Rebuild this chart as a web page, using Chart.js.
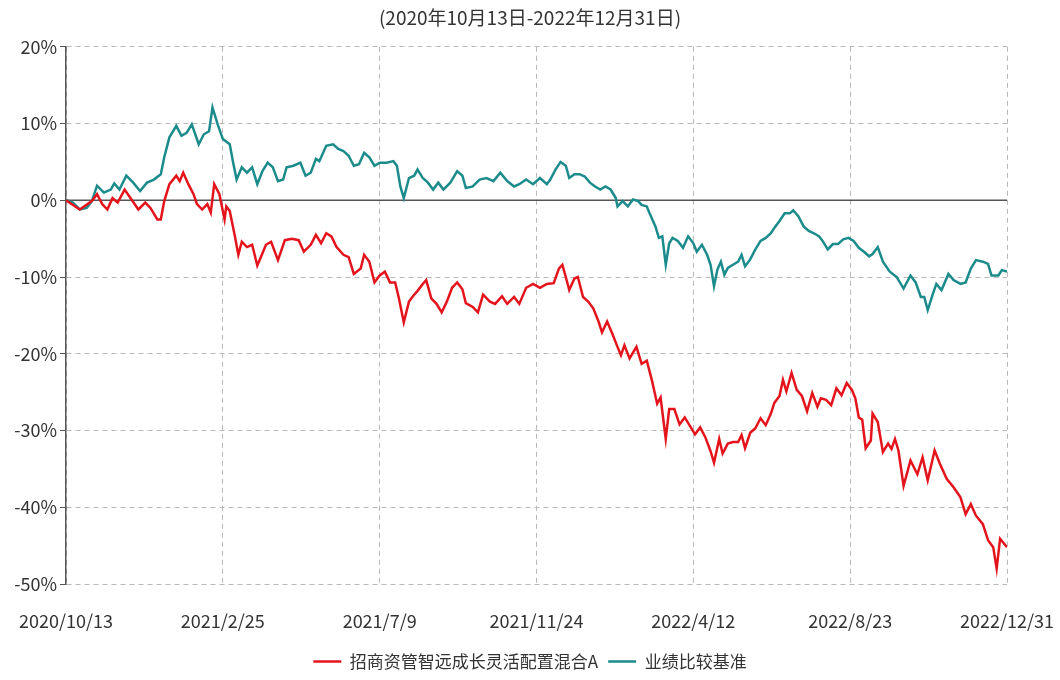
<!DOCTYPE html>
<html>
<head>
<meta charset="utf-8">
<title>招商资管智远成长灵活配置混合A</title>
<script src="https://cdn.jsdelivr.net/npm/chart.js@4.4.0/dist/chart.umd.min.js"></script>
<style>
    html, body { margin: 0; padding: 0; background: #fff; }
</style>
</head>
<body>
<canvas id="navChart" width="1060" height="680"></canvas>
<script>
// x = trading day index since 2020/10/13
const tickDays = [0, 91, 182, 273, 364, 455, 546];
const tickLabels = ['2020/10/13', '2021/2/25', '2021/7/9', '2021/11/24', '2022/4/12', '2022/8/23', '2022/12/31'];

const fundName = '招商资管智远成长灵活配置混合A';
const benchName = '业绩比较基准';
const periodText = '(2020年10月13日-2022年12月31日)';

const fundDays = [0, 8, 15, 18, 21, 24, 27, 30, 34, 38, 42, 46, 49, 53, 55, 57, 60, 64, 66, 68,
    71, 74, 76, 79, 82, 84, 86, 89, 92, 93, 95, 98, 100, 102, 105, 108, 111, 114, 116, 119,
    123, 127, 131, 135, 138, 142, 145, 148, 151, 154, 157, 161, 164, 167, 171, 173, 176, 179, 182, 185,
    188, 191, 193, 196, 199, 202, 204, 207, 209, 212, 215, 218, 221, 224, 227, 230, 232, 236, 239, 242,
    246, 249, 253, 256, 260, 263, 267, 271, 275, 279, 283, 286, 288, 290, 292, 295, 297, 300, 303, 306,
    309, 311, 314, 317, 320, 322, 324, 327, 331, 334, 337, 340, 343, 345, 348, 350, 353, 356, 359, 362,
    365, 368, 371, 374, 376, 379, 381, 384, 387, 390, 392, 394, 397, 400, 403, 406, 409, 411, 414, 416,
    418, 421, 424, 427, 430, 433, 436, 438, 441, 444, 447, 450, 453, 456, 458, 460, 462, 464, 467, 468,
    471, 474, 477, 479, 481, 483, 486, 490, 494, 497, 500, 504, 507, 511, 515, 519, 522, 525, 528, 532,
    535, 538, 540, 542, 546];
const fundReturn = [0, -1.2, -0.1, 0.8, -0.5, -1.2, 0.3, -0.3, 1.4, 0.1, -1.2, -0.3, -1.0, -2.5, -2.5, -0.1, 2.1, 3.2, 2.5, 3.6,
    2.1, 0.8, -0.5, -1.2, -0.5, -1.6, 2.1, 0.8, -2.5, -0.8, -1.4, -4.7, -7.1, -5.4, -6.1, -5.8, -8.5, -6.9, -5.8, -5.4,
    -7.8, -5.2, -5.0, -5.2, -6.7, -5.8, -4.5, -5.6, -4.3, -4.7, -6.1, -7.1, -7.4, -9.6, -8.9, -7.1, -8.0, -10.7, -9.8, -9.3,
    -10.7, -10.7, -12.6, -15.9, -13.2, -12.3, -11.8, -10.9, -10.4, -12.8, -13.5, -14.6, -13.2, -11.4, -10.7, -11.6, -13.4, -13.9, -14.6, -12.3,
    -13.2, -13.5, -12.5, -13.5, -12.6, -13.5, -11.4, -10.9, -11.4, -10.9, -10.8, -8.9, -8.4, -10.0, -11.7, -10.2, -10.0, -12.6, -13.2, -14.1,
    -15.8, -17.2, -15.8, -17.4, -19.1, -20.2, -18.9, -20.6, -19.1, -21.3, -20.9, -23.5, -26.5, -25.7, -31.1, -27.2, -27.2, -29.2, -28.3, -29.4,
    -30.5, -29.6, -30.9, -32.7, -34.2, -31.1, -33.0, -31.7, -31.5, -31.5, -30.6, -32.3, -30.3, -29.7, -28.4, -29.3, -27.8, -26.4, -25.5, -23.4,
    -24.9, -22.5, -24.7, -25.5, -27.5, -25.1, -26.9, -25.8, -26.0, -26.7, -24.5, -25.4, -23.8, -24.7, -25.8, -28.3, -28.6, -32.3, -31.3, -27.8,
    -28.9, -32.8, -31.7, -32.4, -31.1, -32.6, -37.2, -33.9, -35.7, -33.5, -36.5, -32.6, -34.3, -36.3, -37.4, -38.7, -40.9, -39.6, -41.1, -42.2,
    -44.3, -45.2, -48.0, -44.1, -45.2];

const benchDays = [0, 4, 8, 12, 15, 18, 22, 26, 28, 31, 35, 39, 43, 47, 51, 55, 57, 60, 64, 67,
    70, 73, 77, 80, 83, 85, 88, 91, 95, 97, 99, 102, 105, 108, 111, 114, 117, 120, 123, 126,
    128, 132, 136, 139, 142, 145, 147, 151, 155, 158, 161, 164, 167, 170, 173, 176, 179, 182, 186, 190,
    192, 194, 196, 199, 202, 204, 207, 210, 213, 216, 219, 223, 227, 230, 232, 236, 240, 244, 248, 252,
    256, 260, 263, 267, 271, 275, 279, 281, 284, 287, 290, 292, 295, 298, 301, 304, 307, 310, 313, 316,
    319, 320, 323, 326, 329, 332, 334, 337, 339, 342, 344, 346, 348, 350, 352, 355, 358, 361, 364, 366,
    369, 372, 374, 376, 378, 380, 382, 384, 387, 390, 392, 394, 397, 400, 403, 406, 409, 411, 414, 417,
    420, 422, 425, 428, 431, 434, 437, 439, 442, 445, 448, 451, 454, 457, 460, 463, 466, 468, 471, 474,
    478, 482, 486, 490, 493, 496, 498, 500, 503, 505, 508, 512, 515, 519, 522, 525, 528, 532, 535, 537,
    541, 543, 546];
const benchReturn = [0, -0.3, -1.2, -1.0, -0.1, 1.9, 1.0, 1.4, 2.2, 1.4, 3.2, 2.3, 1.2, 2.3, 2.7, 3.4, 5.6, 8.2, 9.7, 8.4,
    8.8, 9.9, 7.3, 8.6, 9.0, 12.1, 9.9, 8.0, 7.3, 4.9, 2.7, 4.3, 3.6, 4.3, 2.1, 3.8, 4.9, 4.3, 2.5, 2.7,
    4.3, 4.5, 4.9, 3.2, 3.6, 5.4, 5.1, 7.1, 7.3, 6.7, 6.4, 5.8, 4.5, 4.7, 6.2, 5.6, 4.5, 4.9, 4.9, 5.1,
    4.5, 1.8, 0.3, 2.9, 3.2, 4.0, 2.9, 2.3, 1.4, 2.3, 1.4, 2.3, 3.8, 3.2, 1.6, 1.8, 2.7, 2.9, 2.5, 3.6,
    2.5, 1.8, 2.1, 2.7, 2.1, 2.9, 2.1, 2.7, 4.0, 5.0, 4.5, 2.9, 3.4, 3.4, 3.1, 2.3, 1.8, 1.4, 1.8, 1.4,
    0.3, -0.8, -0.1, -0.8, 0.1, -0.1, -0.6, -0.8, -1.9, -3.4, -4.9, -4.7, -8.4, -5.6, -4.9, -5.3, -6.2, -4.7, -5.6, -6.7,
    -5.8, -7.1, -8.4, -11.2, -9.0, -8.0, -9.7, -8.8, -8.4, -8.0, -7.1, -8.6, -7.7, -6.4, -5.3, -4.9, -4.3, -3.6, -2.7, -1.7,
    -1.7, -1.3, -2.1, -3.4, -4.0, -4.3, -4.7, -5.3, -6.4, -5.7, -5.7, -5.1, -4.9, -5.3, -6.2, -6.7, -7.3, -7.0, -6.1, -8.0,
    -9.3, -10.0, -11.5, -9.8, -10.7, -12.6, -12.6, -14.3, -12.2, -10.9, -11.7, -9.6, -10.4, -10.9, -10.7, -8.9, -7.8, -8.0, -8.3, -9.8,
    -9.8, -9.1, -9.3];

const fundColor = '#e3141c';
const benchColor = '#1c8b8b';
const textColor = '#333333';
const gridColor = '#b8b8b8';
const fontFamily = '"Noto Sans CJK SC", "Noto Sans", sans-serif';

function toPoints(days, values) {
    return days.map((d, i) => ({ x: d, y: values[i] }));
}

// solid 0% line under the series
const zeroLinePlugin = {
    id: 'zeroLine',
    beforeDatasetsDraw(chart) {
        const { ctx, chartArea, scales } = chart;
        const y = scales.y.getPixelForValue(0);
        ctx.save();
        ctx.strokeStyle = '#555555';
        ctx.lineWidth = 1.5;
        ctx.beginPath();
        ctx.moveTo(chartArea.left, y);
        ctx.lineTo(chartArea.right, y);
        ctx.stroke();
        ctx.restore();
    }
};

const ctx = document.getElementById('navChart');

new Chart(ctx, {
    type: 'line',
    data: {
        datasets: [
            {
                label: fundName,
                data: toPoints(fundDays, fundReturn),
                borderColor: fundColor,
                backgroundColor: fundColor,
                borderWidth: 2.5,
                pointRadius: 0,
                tension: 0
            },
            {
                label: benchName,
                data: toPoints(benchDays, benchReturn),
                borderColor: benchColor,
                backgroundColor: benchColor,
                borderWidth: 2.5,
                pointRadius: 0,
                tension: 0
            }
        ]
    },
    options: {
        responsive: false,
        animation: false,
        layout: {
            padding: { left: 0, right: 0, top: 0, bottom: 0 }
        },
        plugins: {
            title: {
                display: true,
                text: periodText,
                color: textColor,
                font: { family: fontFamily, size: 19, weight: 'normal' },
                padding: { top: 6, bottom: 18 }
            },
            legend: {
                position: 'bottom',
                labels: {
                    color: textColor,
                    font: { family: fontFamily, size: 17 },
                    usePointStyle: true,
                    pointStyle: 'line',
                    pointStyleWidth: 28,
                    padding: 10
                }
            },
            tooltip: { enabled: false }
        },
        scales: {
            x: {
                type: 'linear',
                min: tickDays[0],
                max: tickDays[tickDays.length - 1],
                afterBuildTicks: (scale) => {
                    scale.ticks = tickDays.map(v => ({ value: v }));
                },
                afterFit: (scale) => {
                    // labels sit low, but side overflow is only half the label
                    scale.height = 59;
                    scale.paddingLeft = 10;
                    scale.paddingRight = 53;
                },
                ticks: {
                    autoSkip: false,
                    maxRotation: 0,
                    padding: 26,
                    color: textColor,
                    font: { family: fontFamily, size: 18 },
                    callback: (v) => tickLabels[tickDays.indexOf(v)]
                },
                grid: {
                    color: gridColor,
                    drawTicks: false
                },
                border: {
                    display: false,
                    dash: [5, 4]
                }
            },
            y: {
                min: -50,
                max: 20,
                afterFit: (scale) => {
                    scale.width = 66;
                },
                ticks: {
                    stepSize: 10,
                    padding: 3,
                    color: textColor,
                    font: { family: fontFamily, size: 18 },
                    callback: (v) => v + '%'
                },
                grid: {
                    color: gridColor,
                    tickColor: '#555555',
                    tickLength: 6
                },
                border: {
                    display: true,
                    color: '#555555',
                    width: 1.5,
                    dash: [5, 4]
                }
            }
        }
    },
    plugins: [zeroLinePlugin]
});
</script>
</body>
</html>
